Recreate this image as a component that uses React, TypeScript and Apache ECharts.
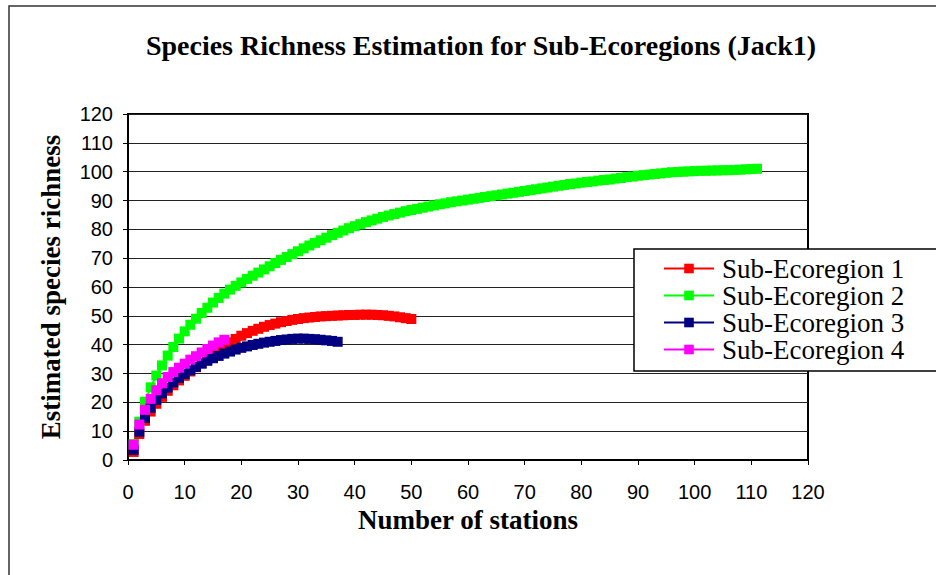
import React, { useEffect, useRef } from "react";
import * as echarts from "echarts";

// Jack1 estimated species richness per number of sampled stations (station 1..N)
const seriesNames = ["Sub-Ecoregion 1", "Sub-Ecoregion 2", "Sub-Ecoregion 3", "Sub-Ecoregion 4"];
const seriesColors = ["#FF0000", "#00FF00", "#000080", "#FF00FF"];

const subEcoregion1 = [
  2.8, 9.0, 13.6, 16.8, 19.5, 21.9, 24.0, 25.9, 27.6, 29.2,
  30.7, 32.2, 33.7, 35.2, 36.6, 38.0, 39.4, 40.8, 42.0, 43.1,
  44.0, 44.8, 45.5, 46.2, 46.8, 47.3, 47.8, 48.2, 48.6, 48.9,
  49.2, 49.4, 49.6, 49.8, 49.9, 50.0, 50.1, 50.2, 50.3, 50.3,
  50.4, 50.4, 50.4, 50.3, 50.2, 50.0, 49.8, 49.5, 49.2, 48.9,
];

const subEcoregion2 = [
  5.5, 13.3, 20.2, 25.2, 29.3, 32.8, 36.2, 39.2, 42.1, 44.6,
  46.9, 49.0, 51.0, 52.8, 54.6, 56.2, 57.7, 59.1, 60.4, 61.6,
  62.8, 63.9, 65.0, 66.1, 67.2, 68.3, 69.4, 70.4, 71.4, 72.4,
  73.4, 74.4, 75.3, 76.2, 77.1, 78.0, 78.8, 79.6, 80.4, 81.1,
  81.8, 82.5, 83.1, 83.7, 84.3, 84.8, 85.3, 85.8, 86.3, 86.7,
  87.1, 87.5, 87.9, 88.3, 88.7, 89.0, 89.4, 89.7, 90.0, 90.3,
  90.6, 90.9, 91.2, 91.5, 91.8, 92.1, 92.4, 92.7, 93.0, 93.3,
  93.6, 93.9, 94.2, 94.5, 94.8, 95.1, 95.4, 95.7, 95.9, 96.2,
  96.4, 96.6, 96.9, 97.1, 97.3, 97.6, 97.8, 98.1, 98.3, 98.6,
  98.8, 99.0, 99.2, 99.4, 99.6, 99.8, 99.9, 100.0, 100.1, 100.2,
  100.3, 100.3, 100.4, 100.4, 100.5, 100.5, 100.6, 100.7, 100.8, 100.9,
  101.0,
];

const subEcoregion3 = [
  3.5, 9.8, 14.6, 18.1, 20.8, 23.1, 25.1, 26.9, 28.5, 29.8,
  31.1, 32.3, 33.4, 34.4, 35.3, 36.1, 36.9, 37.6, 38.3, 38.9,
  39.4, 39.9, 40.3, 40.7, 41.0, 41.3, 41.6, 41.8, 42.0, 42.1,
  42.1, 42.0, 41.9, 41.7, 41.5, 41.3, 41.0,
];

const subEcoregion4 = [
  5.3, 12.3, 17.4, 21.2, 24.2, 26.6, 28.8, 30.5, 32.0, 33.4,
  34.8, 36.0, 37.3, 38.5, 39.7, 40.8, 41.7,
];

const seriesValues = [subEcoregion1, subEcoregion2, subEcoregion3, subEcoregion4];

const chartTitle = "Species Richness Estimation for Sub-Ecoregions (Jack1)";
const xAxisTitle = "Number of stations";
const yAxisTitle = "Estimated species richness";

const SERIF = "'Liberation Serif', 'Times New Roman', serif";
const SANS = "'Liberation Sans', Arial, sans-serif";

export default function App() {
  const ref = useRef<HTMLDivElement>(null);

  useEffect(() => {
    document.body.style.margin = "0";
    if (!ref.current) return;
    const chart = echarts.init(ref.current, null, { renderer: "svg" });

    const series = seriesValues.map((values, si) => ({
      name: seriesNames[si],
      type: "line" as const,
      data: values.map((v, i) => [i + 1, v]),
      symbol: "rect",
      symbolSize: 10,
      showAllSymbol: true,
      lineStyle: { color: seriesColors[si], width: 2 },
      itemStyle: { color: seriesColors[si] },
      emphasis: { disabled: true },
    }));

    chart.setOption({
      animation: false,
      backgroundColor: "#ffffff",
      title: {
        text: chartTitle,
        left: 476,
        top: 26,
        textAlign: "center",
        textStyle: { fontFamily: SERIF, fontWeight: "bold", fontSize: 28, color: "#000" },
      },
      graphic: [
        {
          type: "rect",
          shape: { x: 9, y: 6, width: 960, height: 600 },
          style: { fill: "none", stroke: "#333", lineWidth: 1.5 },
          z: 0,
        },
        {
          type: "rect",
          shape: { x: 634, y: 249, width: 320, height: 122 },
          style: { fill: "#ffffff", stroke: "#000", lineWidth: 1.5 },
          z: 10,
        },
      ],
      legend: {
        orient: "vertical",
        left: 663,
        top: 255,
        itemWidth: 50,
        itemHeight: 12,
        itemGap: 0,
        padding: 0,
        z: 20,
        textStyle: { fontFamily: SERIF, fontSize: 27, color: "#000", lineHeight: 26, padding: [0, 0, 0, 3] },
        data: seriesNames,
      },
      grid: {
        left: 128,
        right: 128,
        top: 114,
        bottom: 115,
        show: true,
        borderColor: "#000",
        borderWidth: 2,
        backgroundColor: "#ffffff",
      },
      xAxis: {
        type: "value",
        min: 0,
        max: 120,
        interval: 10,
        name: xAxisTitle,
        nameLocation: "middle",
        nameGap: 46,
        nameTextStyle: { fontFamily: SERIF, fontWeight: "bold", fontSize: 27, color: "#000" },
        axisLine: { show: true, lineStyle: { color: "#000", width: 2 } },
        axisTick: { show: true, length: 5, lineStyle: { color: "#000", width: 1 } },
        axisLabel: { fontFamily: SANS, fontSize: 20, color: "#000", margin: 22 },
        splitLine: { show: false },
      },
      yAxis: {
        type: "value",
        min: 0,
        max: 120,
        interval: 10,
        name: yAxisTitle,
        nameLocation: "middle",
        nameGap: 64,
        nameTextStyle: { fontFamily: SERIF, fontWeight: "bold", fontSize: 27, color: "#000" },
        axisLine: { show: true, lineStyle: { color: "#000", width: 2 } },
        axisTick: { show: true, length: 5, lineStyle: { color: "#000", width: 1 } },
        axisLabel: { fontFamily: SANS, fontSize: 20, color: "#000", margin: 15 },
        splitLine: { show: true, lineStyle: { color: "#222", width: 1 } },
      },
      series,
    });

    return () => chart.dispose();
  }, []);

  return <div ref={ref} style={{ width: 936, height: 575 }} />;
}
